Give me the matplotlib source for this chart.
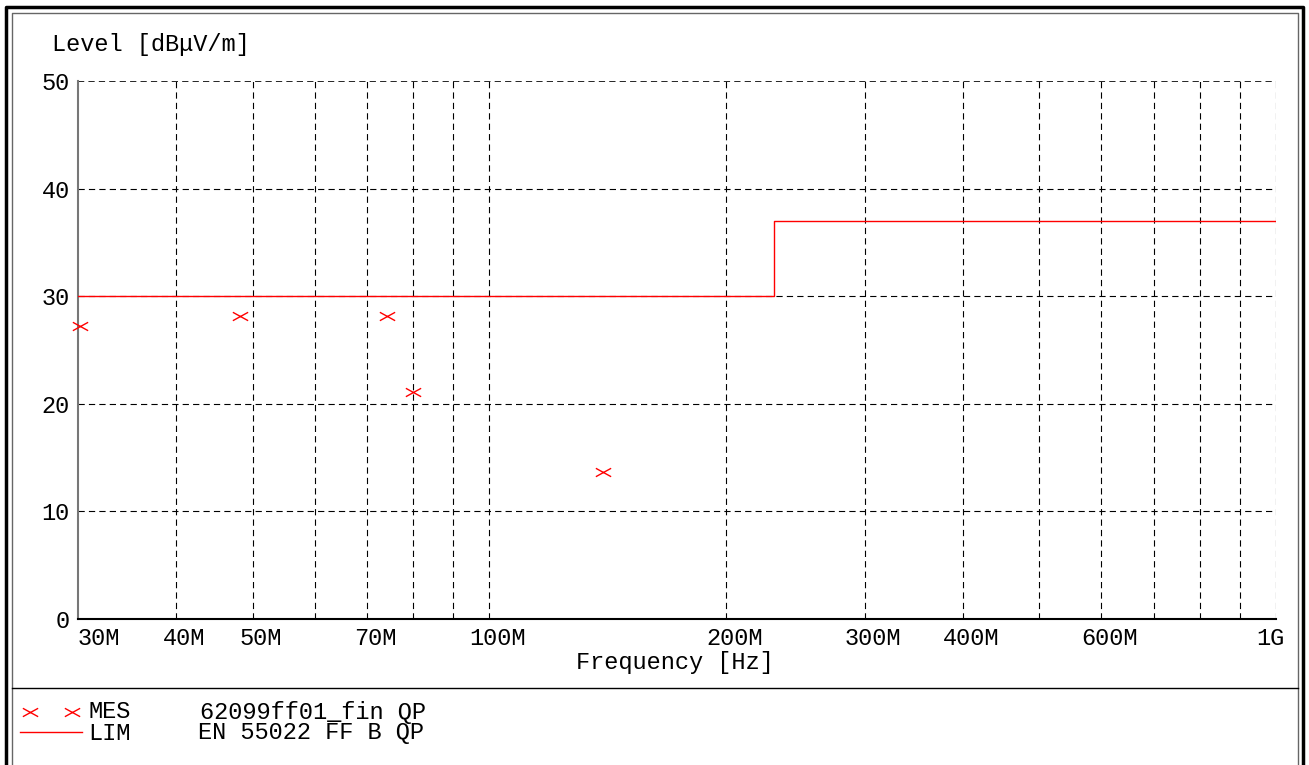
import numpy as np
import matplotlib
matplotlib.use("Agg")
import matplotlib.pyplot as plt
import matplotlib.transforms as mtransforms
from matplotlib.path import Path
from matplotlib.lines import Line2D

plt.rcParams['font.family'] = ['Liberation Mono', 'DejaVu Sans Mono']
plt.rcParams['lines.scale_dashes'] = False

# measurement points (QP) and limit line EN 55022 class B, 10 m
mes_freq = [30.2e6, 48.2e6, 74.1e6, 80.0e6, 139.4e6]
mes_level = [27.2, 28.2, 28.2, 21.1, 13.7]
lim_freq = [30e6, 230e6, 230e6, 1e9]
lim_level = [30, 30, 37, 37]

xtick_freq = [30e6, 40e6, 50e6, 70e6, 100e6, 200e6, 300e6, 400e6, 600e6, 1e9]
xtick_labels = ["30M", "40M", "50M", "70M", "100M", "200M", "300M", "400M", "600M", "1G"]
grid_freq = [40e6, 50e6, 60e6, 70e6, 80e6, 90e6, 100e6, 200e6, 300e6,
             400e6, 500e6, 600e6, 700e6, 800e6, 900e6, 1e9]
ytick_vals = [0, 10, 20, 30, 40, 50]

W, H = 1309, 765


def fx(x):
    return x / W


def fy(y):
    return 1 - y / H


# flattened "x" marker like the plotter output
xmark = Path([(-1, -0.55), (1, 0.55), (-1, 0.55), (1, -0.55)],
             [Path.MOVETO, Path.LINETO, Path.MOVETO, Path.LINETO])

fig = plt.figure(figsize=(W / 100, H / 100), dpi=100)
ax = fig.add_axes([fx(78), fy(619), fx(1276) - fx(78), fy(81) - fy(619)])

ax.set_xscale('log')
ax.set_xlim(30e6, 1e9)
ax.set_ylim(0, 50)

# grid
for g in grid_freq:
    ax.axvline(g, color='black', lw=0.8, dashes=(4.5, 3), zorder=1)
for v in ytick_vals[1:]:
    ax.axhline(v, color='black', lw=1.2 if v == 50 else 0.8, dashes=(4.5, 3), zorder=1)

ax.plot(lim_freq, lim_level, color='red', lw=1.0, zorder=3)
ax.plot(mes_freq, mes_level, ls='none', marker=xmark, ms=11, mew=1.0,
        color='red', zorder=4, clip_on=False)

ax.xaxis.set_minor_locator(matplotlib.ticker.NullLocator())
ax.set_xticks(xtick_freq)
ax.set_xticklabels(xtick_labels, fontsize=17)
ax.set_yticks(ytick_vals)
ax.set_yticklabels([str(v) for v in ytick_vals], fontsize=17)
ax.tick_params(length=0, pad=6)

# plotter labels sit a bit right of their ticks
shift = mtransforms.ScaledTranslation(8 / 100, 0, fig.dpi_scale_trans)
labels = ax.get_xticklabels()
for lab in labels[1:-1]:
    lab.set_transform(lab.get_transform() + shift)
labels[0].set_horizontalalignment('left')
labels[-1].set_transform(labels[-1].get_transform() + shift)
labels[-1].set_horizontalalignment('right')

for s in ['top', 'right']:
    ax.spines[s].set_visible(False)
ax.spines['left'].set_color('#777777')
ax.spines['left'].set_linewidth(1.5)
ax.spines['bottom'].set_color('black')
ax.spines['bottom'].set_linewidth(1.5)

fig.text(fx(52), fy(45), "Level [dBμV/m]", fontsize=17, va='center', ha='left')
fig.text(fx(675), fy(663), "Frequency [Hz]", fontsize=17, va='center', ha='center')

# frame around the sheet
fig.add_artist(Line2D([fx(6), fx(6), fx(1303), fx(1303)], [0, fy(7), fy(7), 0],
                      color='black', lw=2.5, transform=fig.transFigure))
fig.add_artist(Line2D([fx(12), fx(12), fx(1298), fx(1298)], [0, fy(13), fy(13), 0],
                      color='#666666', lw=1.0, transform=fig.transFigure))
fig.add_artist(Line2D([fx(12), fx(1298)], [fy(688), fy(688)],
                      color='black', lw=1.0, transform=fig.transFigure))

# legend block
fig.add_artist(Line2D([fx(30), fx(72)], [fy(712), fy(712)], ls='none', marker=xmark,
                      ms=11, mew=1.0, color='red', transform=fig.transFigure))
fig.add_artist(Line2D([fx(20), fx(82)], [fy(732), fy(732)], color='red', lw=1.0,
                      transform=fig.transFigure))
fig.text(fx(88), fy(712), "MES", fontsize=17, va='center', ha='left')
fig.text(fx(200), fy(712), "62099ff01_fin QP", fontsize=17, va='center', ha='left')
fig.text(fx(88), fy(733), "LIM", fontsize=17, va='center', ha='left')
fig.text(fx(198), fy(733), "EN 55022 FF B QP", fontsize=17, va='center', ha='left')

fig.savefig("out.png", dpi=100)
